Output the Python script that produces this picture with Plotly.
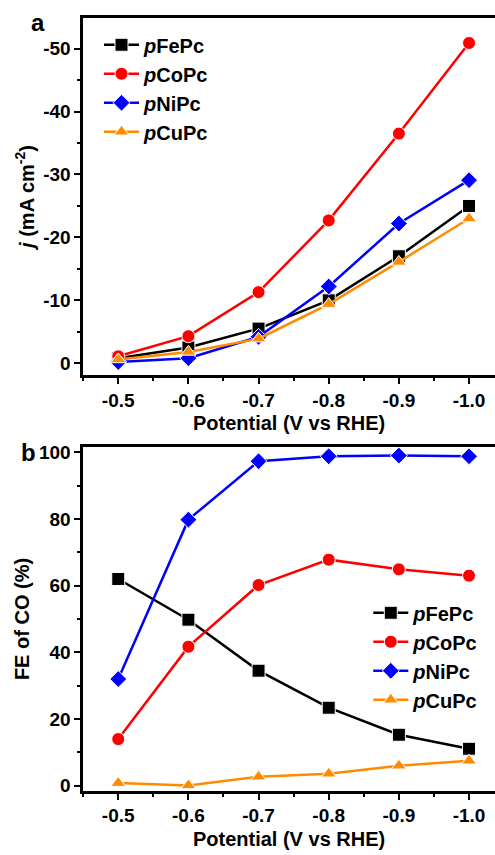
import plotly.graph_objects as go

potential = [-0.5, -0.6, -0.7, -0.8, -0.9, -1.0]
names = ["<i>p</i>FePc", "<i>p</i>CoPc", "<i>p</i>NiPc", "<i>p</i>CuPc"]
colors = ["#000000", "#FF0000", "#0000FF", "#FF8C00"]
symbols = ["square", "circle", "diamond", "triangle-up"]

# panel a: current density j (mA cm-2)
j_fe = [-0.8, -2.5, -5.5, -10.0, -17.0, -25.0]
j_co = [-1.1, -4.3, -11.3, -22.7, -36.5, -50.9]
j_ni = [-0.2, -0.8, -4.2, -12.2, -22.2, -29.1]
j_cu = [-0.6, -1.8, -3.9, -9.4, -16.1, -23.0]

# panel b: FE of CO (%)
fe_fe = [62.0, 49.8, 34.5, 23.4, 15.3, 11.1]
fe_co = [14.0, 41.7, 60.2, 67.8, 64.9, 63.0]
fe_ni = [32.0, 79.8, 97.3, 98.8, 99.0, 98.8]
fe_cu = [0.8, 0.1, 2.7, 3.6, 6.0, 7.5]

x_tickvals = [-0.5, -0.6, -0.7, -0.8, -0.9, -1.0]
x_ticktext = ["-0.5", "-0.6", "-0.7", "-0.8", "-0.9", "-1.0"]
ya_tickvals = [0, -10, -20, -30, -40, -50]
ya_ticktext = ["0", "-10", "-20", "-30", "-40", "-50"]
yb_tickvals = [0, 20, 40, 60, 80, 100]
yb_ticktext = ["0", "20", "40", "60", "80", "100"]

FONT = "Liberation Sans, Arial, sans-serif"

fig = go.Figure()
for ys, nm, c, s in zip([j_fe, j_co, j_ni, j_cu], names, colors, symbols):
    fig.add_trace(go.Scatter(x=potential, y=ys, name="<b>" + nm + "</b>", mode="lines+markers",
                             line=dict(color=c, width=2.5),
                             marker=dict(symbol=s, size=13, color=c, line=dict(color="white", width=1)),
                             xaxis="x", yaxis="y", legend="legend"))
for ys, nm, c, s in zip([fe_fe, fe_co, fe_ni, fe_cu], names, colors, symbols):
    fig.add_trace(go.Scatter(x=potential, y=ys, name="<b>" + nm + "</b>", mode="lines+markers",
                             line=dict(color=c, width=2.5),
                             marker=dict(symbol=s, size=13, color=c, line=dict(color="white", width=1)),
                             xaxis="x2", yaxis="y2", legend="legend2"))

axis_common = dict(showline=True, linecolor="black", linewidth=2.5, ticks="outside",
                   ticklen=6, tickwidth=2, tickcolor="black", showgrid=False, zeroline=False,
                   tickfont=dict(family=FONT, size=19, color="black", weight="bold"))

xr = [-0.45, -1.037]
TF = dict(size=20, family=FONT)
fig.update_layout(
    width=495, height=855, margin=dict(l=0, r=0, t=0, b=0),
    paper_bgcolor="white", plot_bgcolor="white",
    font=dict(family=FONT, color="black"),
    xaxis=dict(**axis_common, domain=[0.168, 1], range=xr, anchor="y", mirror=True,
               tickvals=x_tickvals, ticktext=x_ticktext,
               minor=dict(ticks="outside", ticklen=3, tickwidth=2, dtick=0.05, tick0=-0.45),
               title=dict(text="<b>Potential (V vs RHE)</b>", font=TF, standoff=7)),
    yaxis=dict(**axis_common, domain=[0.5614, 0.9848], range=[1.9, -54.9], anchor="x",
               tickvals=ya_tickvals, ticktext=ya_ticktext,
               minor=dict(ticks="outside", ticklen=3, tickwidth=2, dtick=5, tick0=0),
               title=dict(text="<b><i>j</i> (mA cm<sup>-2</sup>)</b>", font=TF, standoff=4)),
    xaxis2=dict(**axis_common, domain=[0.168, 1], range=xr, anchor="y2", mirror=True,
                tickvals=x_tickvals, ticktext=x_ticktext,
                minor=dict(ticks="outside", ticklen=3, tickwidth=2, dtick=0.05, tick0=-0.45),
                title=dict(text="<b>Potential (V vs RHE)</b>", font=TF, standoff=7)),
    yaxis2=dict(**axis_common, domain=[0.069, 0.476], range=[-1.5, 101.5], anchor="x2",
                tickvals=yb_tickvals, ticktext=yb_ticktext,
                minor=dict(ticks="outside", ticklen=3, tickwidth=2, dtick=10, tick0=0),
                title=dict(text="<b>FE of CO (%)</b>", font=TF, standoff=4)),
    legend=dict(x=0.20, y=0.976, xanchor="left", yanchor="top", bgcolor="rgba(0,0,0,0)",
                font=dict(size=20, family=FONT), itemwidth=35, tracegroupgap=0),
    legend2=dict(x=0.744, y=0.303, xanchor="left", yanchor="top", bgcolor="rgba(0,0,0,0)",
                 font=dict(size=20, family=FONT), itemwidth=35, tracegroupgap=0),
    showlegend=True,
    annotations=[
        dict(text="<b>a</b>", x=0.058, y=0.998, xref="paper", yref="paper", xanchor="left", yanchor="top",
             showarrow=False, font=dict(size=24, family=FONT, color="black")),
        dict(text="<b>b</b>", x=0.038, y=0.488, xref="paper", yref="paper", xanchor="left", yanchor="top",
             showarrow=False, font=dict(size=24, family=FONT, color="black")),
    ],
)

fig.write_html("out.html")
